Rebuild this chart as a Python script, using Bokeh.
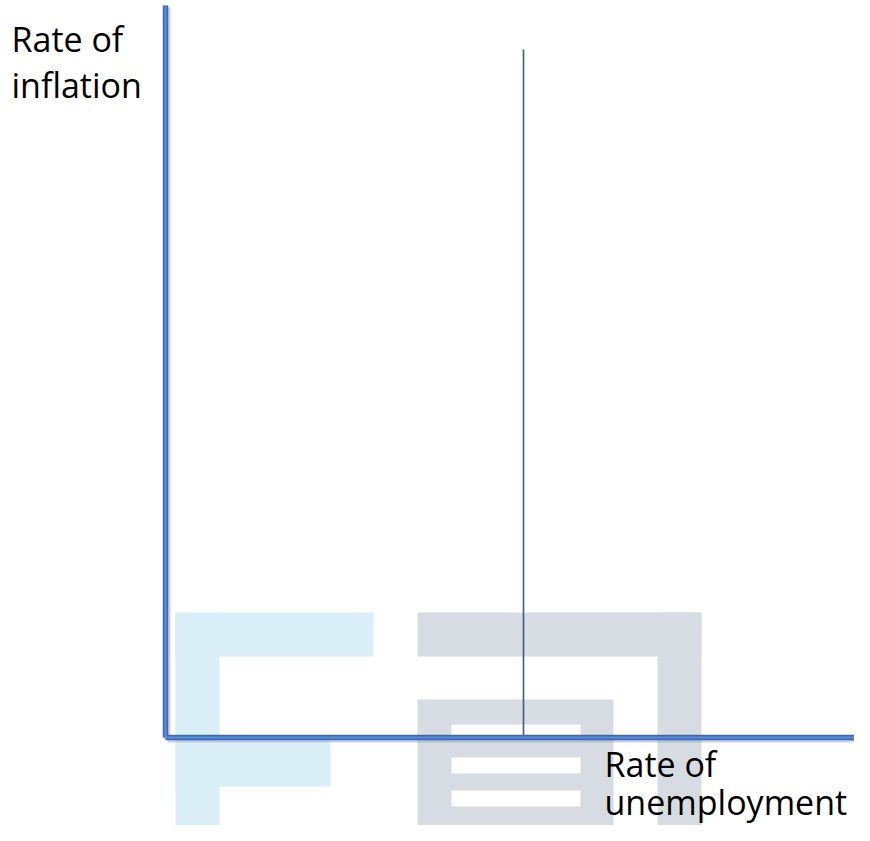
from bokeh.plotting import figure
from bokeh.models import Range1d
from bokeh.core.properties import value
from bokeh.embed import file_html
from bokeh.resources import INLINE

# ---- data (schematic units: origin at the axes' corner) ----
axis_x_end = [705]          # length of the horizontal (unemployment) axis
axis_y_end = [732]          # length of the vertical (inflation) axis
natural_rate = [358]        # position of the vertical long-run line
natural_line_top = [688]

y_label_lines = ["Rate of", "inflation"]
y_label_x = [-154, -154]
y_label_y = [699, 653]
x_label_lines = ["Rate of", "unemployment"]
x_label_x = [439, 439]
x_label_y = [-26, -64]

# watermark blocks (left, right, bottom, top)
wm_blue_l = [10, 10, 10]
wm_blue_r = [208, 54, 165]
wm_blue_b = [81, -104, -49]
wm_blue_t = [125, 125, -3]

wm_grey_l = [252, 492, 252]
wm_grey_r = [536, 536, 448]
wm_grey_b = [81, -93, -93]
wm_grey_t = [125, 125, 38]

wm_stripe_l = [286, 286, 286]
wm_stripe_r = [415, 415, 415]
wm_stripe_b = [-3, -36, -69]
wm_stripe_t = [13, -20, -53]

p = figure(width=854, height=825, output_backend="svg", toolbar_location=None,
           x_range=Range1d(-165, 689), y_range=Range1d(-88, 737),
           min_border=0, background_fill_color="white", border_fill_color="white")
p.outline_line_color = None
p.grid.visible = False
p.axis.visible = False

# watermark
p.quad(left=wm_blue_l, right=wm_blue_r, bottom=wm_blue_b, top=wm_blue_t,
       fill_color="#d9eef6", line_color=None)
p.quad(left=wm_grey_l, right=wm_grey_r, bottom=wm_grey_b, top=wm_grey_t,
       fill_color="#d6dce2", line_color=None)
p.quad(left=wm_stripe_l, right=wm_stripe_r, bottom=wm_stripe_b, top=wm_stripe_t,
       fill_color="white", line_color=None)

# natural-rate vertical line
p.segment(x0=natural_rate, y0=[0], x1=natural_rate, y1=natural_line_top,
          line_color="#3e5c80", line_width=1.6)

# axes: shadow, body, highlight
p.segment(x0=[2, 2], y0=[-2, -2], x1=[2, axis_x_end[0] + 2], y1=[axis_y_end[0] - 2, -2],
          line_color="#9a9a9a", line_width=6, line_alpha=0.45)
p.segment(x0=[0, 0], y0=[0, 0], x1=[0, axis_x_end[0]], y1=[axis_y_end[0], 0],
          line_color="#3b67b4", line_width=5.5)
p.segment(x0=[0, 0], y0=[0, 0], x1=[0, axis_x_end[0]], y1=[axis_y_end[0], 0],
          line_color="#5b8ddb", line_width=2.2)

# labels
p.text(x=y_label_x, y=y_label_y, text=y_label_lines, text_font=value("Open Sans"),
       text_font_size="34px", text_color="black", text_baseline="alphabetic")
p.text(x=x_label_x, y=x_label_y, text=x_label_lines, text_font=value("Open Sans"),
       text_font_size="34px", text_color="black", text_baseline="alphabetic")

open("out.html", "w").write(file_html(p, INLINE))
